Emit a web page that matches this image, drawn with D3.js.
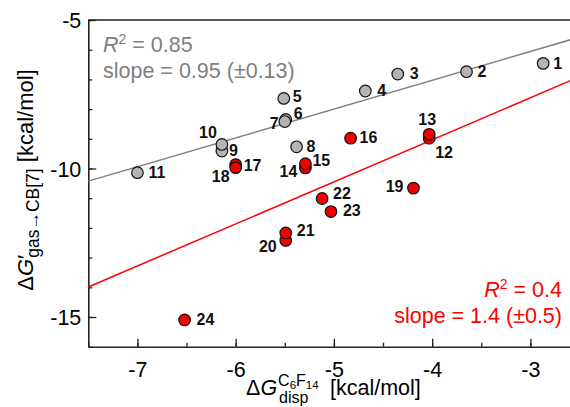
<!DOCTYPE html>
<html>
<head>
<meta charset="utf-8">
<script src="https://cdn.jsdelivr.net/npm/d3@7"></script>
<style>
  body { margin: 0; background: #fff; }
  svg { font-family: "Liberation Sans", Arial, sans-serif; }
</style>
</head>
<body>
<svg width="570" height="407"></svg>
<script>
// compound ids, x = dG disp (C6F14), y = dG' gas -> CB[7]
var grayIds = [1, 2, 3, 4, 5, 6, 7, 8, 9, 10, 11];
var grayX = [-2.87, -3.65, -4.35, -4.68, -5.51, -5.49, -5.50, -5.38, -6.14, -6.14, -7.00];
var grayY = [-6.46, -6.74, -6.82, -7.39, -7.64, -8.35, -8.42, -9.27, -9.41, -9.19, -10.14];

var redIds = [12, 13, 14, 15, 16, 17, 18, 19, 20, 21, 22, 23, 24];
var redX = [-4.03, -4.03, -5.29, -5.29, -4.83, -6.00, -6.00, -4.19, -5.49, -5.49, -5.12, -5.03, -6.52];
var redY = [-8.98, -8.85, -9.98, -9.84, -8.98, -9.87, -9.97, -10.66, -12.42, -12.17, -11.01, -11.45, -15.10];

// linear fits (slope, intercept)
var grayFit = [0.97, -3.15];
var redFit = [1.416, -3.37];

var grayStats = ["0.85", "slope = 0.95 (\u00b10.13)"];
var redStats = ["0.4", "slope = 1.4 (\u00b10.5)"];

var xTicks = [-7, -6, -5, -4, -3];
var yTicks = [-15, -10, -5];

var svg = d3.select("svg");
var mLeft = 88.3, mTop = 20, mBottom = 346.7, mRight = 579.5;

var x = d3.scaleLinear().domain([-7.5, -2.5]).range([mLeft, mRight]);
var y = d3.scaleLinear().domain([-16, -5]).range([mBottom, mTop]);

var GRAY = "#808080", RED = "#ff0000";
var fmt = function(d) { return String(d); };

// minor ticks
svg.append("g")
    .attr("transform", "translate(0," + mBottom + ")")
    .call(d3.axisBottom(x).tickValues(d3.range(-7.5, -2.4, 0.5)).tickSize(-4).tickFormat(""))
    .call(function(g) { g.select(".domain").remove(); });
svg.append("g")
    .attr("transform", "translate(" + mLeft + ",0)")
    .call(d3.axisLeft(y).tickValues(d3.range(-16, -4.9, 1)).tickSize(-4).tickFormat(""))
    .call(function(g) { g.select(".domain").remove(); });

// major axes
var xAxis = svg.append("g")
    .attr("transform", "translate(0," + mBottom + ")")
    .call(d3.axisBottom(x).tickValues(xTicks).tickSize(-8).tickSizeOuter(0).tickPadding(15).tickFormat(fmt));
var yAxis = svg.append("g")
    .attr("transform", "translate(" + mLeft + ",0)")
    .call(d3.axisLeft(y).tickValues(yTicks).tickSize(-8).tickSizeOuter(0).tickPadding(7).tickFormat(fmt));

[xAxis, yAxis].forEach(function(g) {
  g.attr("font-family", null).attr("font-size", 21.5);
  g.selectAll("text").attr("fill", "#000");
  g.select(".domain").attr("stroke", "#222").attr("stroke-width", 1.6);
});
yAxis.selectAll("text").attr("dy", "0.36em");
svg.selectAll("g.tick line").attr("stroke", "#222").attr("stroke-width", 1.3);

// frame top and right
svg.append("path")
    .attr("d", "M" + mLeft + "," + mTop + "H" + mRight + "V" + mBottom)
    .attr("fill", "none").attr("stroke", "#222").attr("stroke-width", 1.6);

// fit lines
function fitLine(fit, color) {
  var xs = x.domain();
  svg.append("line")
      .attr("x1", x(xs[0])).attr("y1", y(fit[0] * xs[0] + fit[1]))
      .attr("x2", x(xs[1])).attr("y2", y(fit[0] * xs[1] + fit[1]))
      .attr("stroke", color).attr("stroke-width", 1.5);
}
fitLine(grayFit, GRAY);
fitLine(redFit, RED);

// label placement: [dx, dy, anchor]
var labelPos = {
  1: [10, 6, "start"], 2: [11, 5, "start"], 3: [12, 5, "start"], 4: [12, 5, "start"],
  5: [9, 4, "start"], 6: [8, 0, "start"], 7: [-6, 7, "end"], 8: [10, 5, "start"],
  9: [7, 5, "start"], 10: [-5, -6, "end"], 11: [11, 5, "start"],
  12: [6, 20, "start"], 13: [-2, -9, "middle"], 14: [-8, 9, "end"], 15: [7, 2, "start"],
  16: [9, 5, "start"], 17: [8, 6, "start"], 18: [-6, 14, "end"], 19: [-10, 4, "end"],
  20: [-9, 12, "end"], 21: [11, 3, "start"], 22: [11, 1, "start"], 23: [12, 4, "start"],
  24: [12, 5, "start"]
};

function drawSeries(ids, xs, ys, fill) {
  var pts = ids.map(function(id, i) { return { id: id, x: xs[i], y: ys[i] }; });
  var g = svg.append("g");
  g.selectAll("circle")
    .data(pts)
    .enter().append("circle")
      .attr("cx", function(d) { return x(d.x); })
      .attr("cy", function(d) { return y(d.y); })
      .attr("r", 5.8)
      .attr("fill", fill)
      .attr("stroke", "#111")
      .attr("stroke-width", 1.2);
  g.selectAll("text")
    .data(pts)
    .enter().append("text")
      .attr("x", function(d) { return x(d.x) + labelPos[d.id][0]; })
      .attr("y", function(d) { return y(d.y) + labelPos[d.id][1]; })
      .attr("text-anchor", function(d) { return labelPos[d.id][2]; })
      .attr("font-size", 16)
      .attr("font-weight", "bold")
      .attr("fill", "#111")
      .text(function(d) { return d.id; });
}
drawSeries(grayIds, grayX, grayY, "#b4b4b4");
drawSeries(redIds, redX, redY, "#f00000");

// stats text
function statText(stats, color, xPos, y1, y2, anchor) {
  var t = svg.append("text")
      .attr("x", xPos).attr("y", y1)
      .attr("text-anchor", anchor)
      .attr("font-size", 21.5).attr("fill", color);
  t.append("tspan").attr("font-style", "italic").text("R");
  t.append("tspan").attr("font-size", 14).attr("dy", -8).text("2");
  t.append("tspan").attr("dy", 8).text(" = " + stats[0]);
  svg.append("text")
      .attr("x", xPos).attr("y", y2)
      .attr("text-anchor", anchor)
      .attr("font-size", 21.5).attr("fill", color)
      .text(stats[1]);
}
statText(grayStats, GRAY, 103, 52, 78, "start");
statText(redStats, RED, 562, 297, 323, "end");

// x axis title
var xt = svg.append("text")
    .attr("x", 246).attr("y", 395)
    .attr("font-size", 21.5).attr("fill", "#000");
xt.append("tspan").text("\u0394");
xt.append("tspan").attr("font-style", "italic").text("G");
var gx = 246 + xt.node().getComputedTextLength() + 1;
var sup = svg.append("text")
    .attr("x", gx).attr("y", 386)
    .attr("font-size", 16).attr("fill", "#000");
sup.append("tspan").text("C");
sup.append("tspan").attr("font-size", 11.5).attr("dy", 3).text("6");
sup.append("tspan").attr("dy", -3).text("F");
sup.append("tspan").attr("font-size", 11.5).attr("dy", 3).text("14");
var supEnd = gx + sup.node().getComputedTextLength();
svg.append("text")
    .attr("x", gx + 1).attr("y", 403)
    .attr("font-size", 16).attr("fill", "#000")
    .text("disp");
svg.append("text")
    .attr("x", Math.max(330, supEnd + 9)).attr("y", 395)
    .attr("font-size", 21.5).attr("fill", "#000")
    .text("[kcal/mol]");

// y axis title
var yt = svg.append("text")
    .attr("transform", "translate(33,180) rotate(-90)")
    .attr("text-anchor", "middle")
    .attr("font-size", 22).attr("fill", "#000");
yt.append("tspan").text("\u0394");
yt.append("tspan").attr("font-style", "italic").text("G");
yt.append("tspan").text("\u2032");
yt.append("tspan").attr("font-size", 17.5).attr("dx", -3).attr("dy", 6).text("gas\u2192CB[7]");
yt.append("tspan").attr("dy", -6).text(" [kcal/mol]");
</script>
</body>
</html>
